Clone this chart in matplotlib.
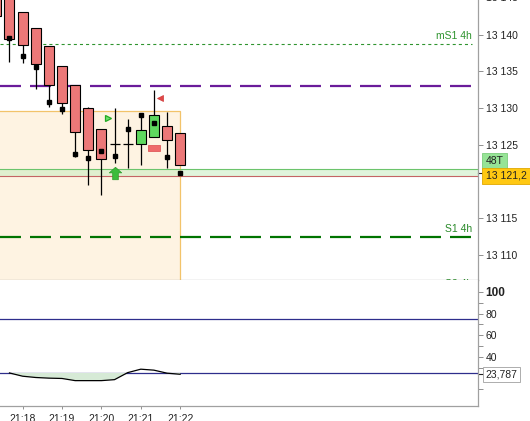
import matplotlib
matplotlib.use('Agg')
import matplotlib.pyplot as plt
import matplotlib.transforms as mtrans
from matplotlib.patches import Rectangle
from matplotlib.path import Path
import numpy as np

plt.rcParams['font.family'] = ['Liberation Sans', 'DejaVu Sans']
plt.rcParams['lines.scale_dashes'] = False

# ---------------- data ----------------
idx = [-2, -1, 0, 1, 2, 3, 4, 5, 6, 7, 8, 9, 10, 11, 12]
opens  = [13148.0, 13146.5, 13143.05, 13140.9, 13138.4, 13135.8, 13133.2, 13130.0, 13127.1, 13125.1, 13125.1, 13125.1, 13126.0, 13127.5, 13126.6]
closes = [13142.6, 13139.4, 13138.6, 13136.0, 13133.2, 13130.7, 13126.8, 13124.3, 13123.0, 13125.1, 13125.1, 13127.0, 13129.0, 13125.6, 13122.3]
highs  = [13149.0, 13147.0, 13143.05, 13140.9, 13138.4, 13135.8, 13133.2, 13130.1, 13127.1, 13130.0, 13128.5, 13129.2, 13132.5, 13129.5, 13126.6]
lows   = [13141.0, 13136.3, 13136.2, 13132.6, 13130.2, 13129.2, 13123.3, 13119.5, 13118.1, 13122.5, 13121.9, 13122.3, 13126.0, 13121.9, 13122.3]
dot_idx = [-1, 0, 1, 2, 3, 4, 5, 6, 7, 8, 9, 10, 11, 12]
dots    = [13139.6, 13137.1, 13135.6, 13130.9, 13129.9, 13123.8, 13123.2, 13124.1, 13123.5, 13127.1, 13129.0, 13128.0, 13123.3, 13121.2]

osc_idx = [-1, 0, 1, 2, 3, 4, 5, 6, 7, 8, 9, 10, 11, 12]
osc     = [25.0, 22.0, 20.8, 20.2, 19.9, 17.9, 17.9, 17.9, 18.8, 25.3, 28.5, 27.6, 24.8, 23.787]

time_pos    = [0, 3, 6, 9, 12]
time_labels = ['21:18', '21:19', '21:20', '21:21', '21:22']

price_ticks  = [13110, 13115, 13125, 13130, 13135, 13140]
price_labels = ['13 110', '13 115', '13 125', '13 130', '13 135', '13 140']
osc_ticks  = [40, 60, 80, 100]
osc_minor  = [10, 30, 50, 70, 90]
osc_levels = [25, 75]

ms1_level = 13138.77
pivot_level = 13133.0
s1_level = 13112.44
s2_label_level = 13106.75
band_top, band_bottom = 13121.66, 13120.75
box_top, box_right = 13129.57, 12
last_price = 13121.2
last_price_label = '13 121,2'
tick_count_label = '48T'
tick_count_level = 13122.83
last_osc = 23.787
arrow_pos = (7, 13121.1)
tri_right_pos = (6.5, 13128.6)
tri_left_pos = (10.5, 13131.4)
red_rect = (9.55, 10.5, 13124.1, 13125.0)

XMIN, XMAX = -1.721, 34.68
LINE_END = 34.2

# ---------------- figure ----------------
fig = plt.figure(figsize=(5.30, 4.21), dpi=100)
ax = fig.add_axes([0, 1 - 280 / 421, 478 / 530, 280 / 421])
ax2 = fig.add_axes([0, 1 - 406 / 421, 478 / 530, 126 / 421], sharex=ax)

ax.set_xlim(XMIN, XMAX)
ax.set_ylim(13106.58, 13144.73)

# box
ax.add_patch(Rectangle((XMIN - 2, 13090), box_right - XMIN + 2, box_top - 13090,
                       facecolor='#fef3e2', edgecolor='#f2c36a', lw=0.9, zorder=1))
# band
ax.axhspan(band_bottom, band_top, color='#c8ecc0', alpha=0.55, lw=0, zorder=1.5)
ax.axhline(band_top, color='#6cc46c', lw=0.8, zorder=1.6)
ax.axhline(band_bottom, color='#c46464', lw=0.8, zorder=1.6)

# levels
ax.hlines(ms1_level, XMIN, LINE_END, colors='#2f942f', lw=0.8, linestyles=(0, (2.2, 2.2)), zorder=2)
ax.hlines(pivot_level, XMIN, LINE_END, colors='#6a1b9a', lw=1.6, linestyles=(0, (15.1, 6.5)), zorder=2)
ax.hlines(s1_level, XMIN, LINE_END, colors='#007400', lw=1.6, linestyles=(0, (15.1, 6.5)), zorder=2)
ax.text(LINE_END, ms1_level + 0.35, 'mS1 4h', color='#2f942f', fontsize=7.5, ha='right', va='bottom', zorder=3)
ax.text(LINE_END, s1_level + 0.35, 'S1 4h', color='#2a8a2a', fontsize=7.5, ha='right', va='bottom', zorder=3)
ax.text(LINE_END, s2_label_level, 'S2 4h', color='#2a8a2a', fontsize=7.5, ha='right', va='top', zorder=3, clip_on=True)

# candles
bw = 0.76
for i, o, c, h, l in zip(idx, opens, closes, highs, lows):
    top, bot = max(o, c), min(o, c)
    ax.vlines(i, l, h, colors='black', lw=0.9, zorder=3)
    if abs(o - c) < 1e-6:
        ax.hlines(o, i - bw / 2, i + bw / 2, colors='black', lw=0.9, zorder=3.5)
    else:
        col = '#5fd85f' if c > o else '#ec7878'
        ax.bar(i, top - bot, bottom=bot, width=bw, color=col, edgecolor='black', lw=0.8, zorder=3.5)
ax.plot(dot_idx, dots, ls='none', marker='s', ms=3, color='black', zorder=4)

# signals
arrow = Path([(-1, 0.1), (0, 1), (1, 0.1), (0.45, 0.1), (0.45, -1), (-0.45, -1), (-0.45, 0.1), (-1, 0.1)],
             [Path.MOVETO] + [Path.LINETO] * 6 + [Path.CLOSEPOLY])
ax.plot(*arrow_pos, marker=arrow, ms=9, color='#3cbc3c', mec='#2c9c2c', mew=0.5, zorder=5)
ax.plot(*tri_right_pos, marker='>', ms=5, color='#6ee06e', mec='#22aa22', mew=0.9, zorder=5)
ax.plot(*tri_left_pos, marker='<', ms=5, color='#e04848', mec='#d03838', mew=0.5, zorder=5)
ax.add_patch(Rectangle((red_rect[0], red_rect[2]), red_rect[1] - red_rect[0], red_rect[3] - red_rect[2],
                       facecolor='#ef6a6a', edgecolor='#e05a5a', lw=0.6, zorder=5))

# main axes styling
for s in ['top', 'left']:
    ax.spines[s].set_visible(False)
for s in ['right', 'bottom']:
    ax.spines[s].set_color('#a0a0a0')
    ax.spines[s].set_linewidth(0.9)
ax.yaxis.tick_right()
ax.set_yticks(price_ticks)
ax.set_yticklabels(price_labels)
ax.tick_params(axis='y', length=3.3, width=0.7, color='#909090', pad=2.2, labelsize=7.5, labelcolor='#222222')
ax.tick_params(axis='x', which='both', bottom=False, labelbottom=False)

ytrans = mtrans.blended_transform_factory(ax.transAxes, ax.transData)
ax.text(1.0 + 7.7 / 478, 13145, '13 145', transform=ytrans, fontsize=7.5, color='#222222',
        va='center', ha='left', clip_on=False)
ax.plot([1.0, 1.0 + 5 / 478], [last_price, last_price], transform=ytrans, color='#222222', lw=0.8, clip_on=False)
ax.text(1.0 + 7.5 / 478, tick_count_level, tick_count_label, transform=ytrans, fontsize=7.5, color='#222222',
        va='center', ha='left', clip_on=False,
        bbox=dict(boxstyle='square,pad=0.3', facecolor='#96e496', edgecolor='#7ccc7c', lw=0.6))
ax.text(1.0 + 7.5 / 478, last_price - 0.45, last_price_label, transform=ytrans, fontsize=7.5, color='#222222',
        va='center', ha='left', clip_on=False,
        bbox=dict(boxstyle='square,pad=0.3', facecolor='#ffc812', edgecolor='#e0a800', lw=0.6))

# ---------------- oscillator ----------------
ax2.set_ylim(-5.6, 111.1)
for lv in osc_levels:
    ax2.axhline(lv, color='#2e2e8c', lw=0.9, zorder=1)
ox = np.array(osc_idx, dtype=float)
oy = np.array(osc)
ax2.fill_between(ox, oy, osc_levels[0], where=oy < osc_levels[0], interpolate=True,
                 color='#d6ead6', lw=0, zorder=1.5)
ax2.plot(ox, oy, color='black', lw=0.9, zorder=2)

for s in ['top', 'left']:
    ax2.spines[s].set_visible(False)
for s in ['right', 'bottom']:
    ax2.spines[s].set_color('#a0a0a0')
    ax2.spines[s].set_linewidth(0.9)
ax2.yaxis.tick_right()
ax2.set_yticks(osc_ticks)
ax2.set_yticklabels([str(t) for t in osc_ticks])
ax2.set_yticks(osc_minor, minor=True)
ax2.tick_params(axis='y', which='both', length=3.3, width=0.7, color='#909090', pad=2.2,
                labelsize=7.5, labelcolor='#222222')
for lab in ax2.get_yticklabels():
    if lab.get_text() == '100':
        lab.set_fontweight('bold')
        lab.set_fontsize(8.5)
ax2.set_xticks(time_pos)
ax2.set_xticklabels(time_labels)
ax2.tick_params(axis='x', length=2.3, width=0.7, color='#909090', pad=3.5, labelsize=7.5, labelcolor='#222222')

y2trans = mtrans.blended_transform_factory(ax2.transAxes, ax2.transData)
ax2.plot([1.0, 1.0 + 5 / 478], [last_osc, last_osc], transform=y2trans, color='#222222', lw=0.8, clip_on=False)
ax2.text(1.0 + 7.5 / 478, last_osc, f'{last_osc:.3f}'.replace('.', ','), transform=y2trans, fontsize=7.5,
         color='#222222', va='center', ha='left', clip_on=False,
         bbox=dict(boxstyle='square,pad=0.25', facecolor='white', edgecolor='#a0a0a0', lw=0.6))

fig.savefig('out.png', dpi=100, facecolor='white')
